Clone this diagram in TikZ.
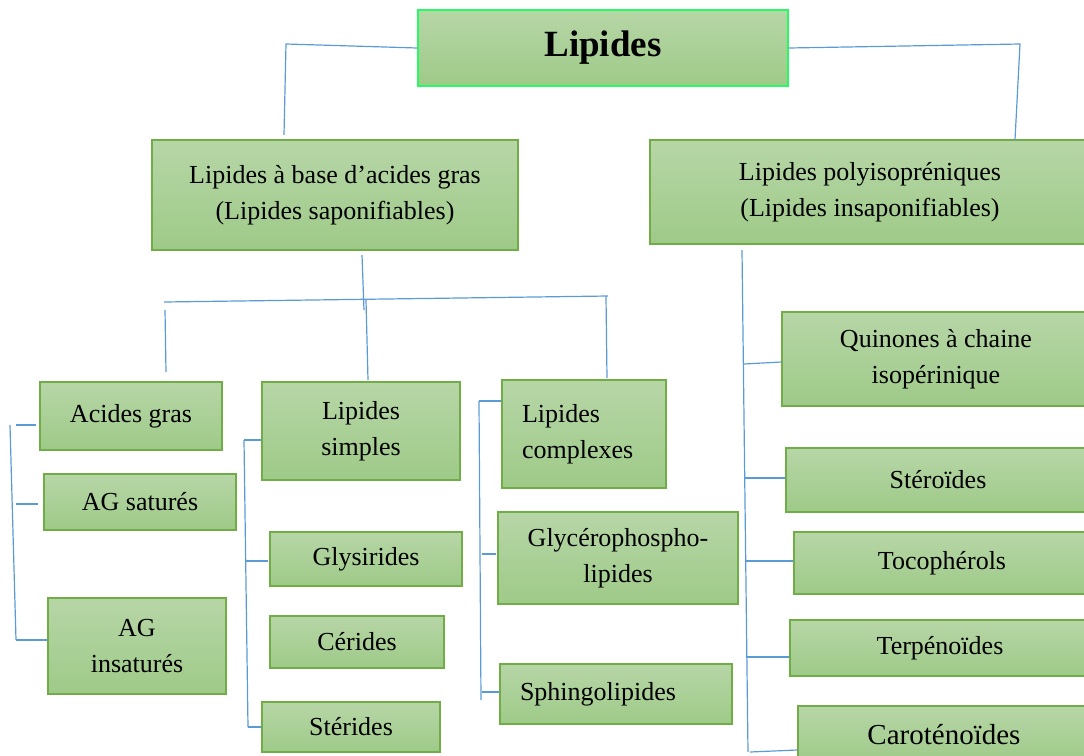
\documentclass[tikz,border=0pt]{standalone}
\usepackage{fontspec}
\setmainfont{Liberation Serif}
\usepackage{xcolor}
\usetikzlibrary{positioning}
\definecolor{boxline}{RGB}{112,173,71}
\definecolor{boxtop}{RGB}{183,214,167}
\definecolor{boxbot}{RGB}{158,202,136}
\definecolor{titleline}{RGB}{40,250,100}
\definecolor{linkblue}{RGB}{91,155,213}

\begin{document}
\begin{tikzpicture}[x=0.5pt, y=-0.5pt,
        box/.style={draw=boxline, line width=0.7pt, top color=boxtop, bottom color=boxbot,
            align=center, inner sep=0pt, font=\fontsize{13}{18}\selectfont},
        link/.style={draw=linkblue, line width=0.6pt}]
        \useasboundingbox (0,0) rectangle (1084,756);

        \node[box, draw=titleline, minimum width=185pt, minimum height=38pt,
            font=\bfseries\fontsize{18.5}{22}\selectfont] (lip) at (603,48) {Lipides};

        \node[box, minimum width=183pt, minimum height=55pt] (sapo) at (335,195)
            {Lipides à base d’acides gras\\(Lipides saponifiables)};
        \node[box, minimum width=220pt, minimum height=52pt] (insapo) at (870,192)
            {Lipides polyisopréniques\\(Lipides insaponifiables)};

        \node[box, minimum width=91pt, minimum height=34pt] (ag) at (131,416) {Acides gras};
        \node[box, minimum width=96pt, minimum height=28pt] (agsat) at (140,502) {AG saturés};
        \node[box, minimum width=89pt, minimum height=48pt] (agins) at (137,646) {AG\\insaturés};

        \node[box, minimum width=99pt, minimum height=49pt] (simples) at (361,431) {Lipides\\simples};
        \node[box, minimum width=96pt, minimum height=27pt] (glys) at (366,559) {Glysirides};
        \node[box, minimum width=87pt, minimum height=26pt] (cer) at (357,642) {Cérides};
        \node[box, minimum width=89pt, minimum height=25pt] (ster) at (351,727) {Stérides};

        \node[box, minimum width=82pt, minimum height=54pt, align=left, text width=62pt,
            inner xsep=10pt] (compl) at (584,434) {Lipides\\complexes};
        \node[box, minimum width=120pt, minimum height=46pt] (glyc) at (618,558)
            {Glycérophospho-\\lipides};
        \node[box, minimum width=116pt, minimum height=30pt, align=left, text width=96pt,
            inner xsep=10pt] (sphingo) at (616,694) {Sphingolipides};

        \node[box, minimum width=154pt, minimum height=47pt] (quin) at (936,359)
            {Quinones à chaine\\isopérinique};
        \node[box, minimum width=152pt, minimum height=32pt] (stero) at (938,480) {Stéroïdes};
        \node[box, minimum width=148pt, minimum height=31pt] (toco) at (942,563) {Tocophérols};
        \node[box, minimum width=150pt, minimum height=28pt] (terp) at (940,648) {Terpénoïdes};
        \node[box, minimum width=146pt, minimum height=29pt,
            font=\fontsize{14.5}{18}\selectfont] (caro) at (944,735) {Caroténoïdes};

        \coordinate (lipL) at (286,44);
        \coordinate (lipLd) at (284,135);
        \coordinate (lipR) at (1020,44);
        \coordinate (lipRd) at (1015,140);
        \draw[link] (lip.west) -- (lipL) -- (lipLd);
        \draw[link] (lip.east) -- (lipR) -- (lipRd);

        \coordinate (sapoD) at (362,255);
        \coordinate (busM) at (364,310);
        \coordinate (busL) at (164,302);
        \coordinate (busR) at (608,296);
        \draw[link] (sapoD) -- (busM);
        \draw[link] (busL) -- (busR);
        \draw[link] (165,310) -- (166,372);
        \draw[link] (366,300) -- (368,380);
        \draw[link] (606,296) -- (607,378);

        \coordinate (agT) at (10,425);
        \coordinate (agB) at (16,640);
        \draw[link] (agT) -- (agB);
        \draw[link] (16,425) -- (36,425);
        \draw[link] (16,504) -- (38,504);
        \draw[link] (agB) -- (agins.west |- agB);

        \coordinate (simT) at (244,440);
        \coordinate (simB) at (248,727);
        \draw[link] (simT) -- (simB);
        \draw[link] (simT) -- (simples.west |- simT);
        \draw[link] (246,561) -- (268,561);
        \draw[link] (simB) -- (ster.west |- simB);

        \coordinate (comT) at (479,401);
        \coordinate (comB) at (481,700);
        \draw[link] (comT) -- (comB);
        \draw[link] (comT) -- (compl.west |- comT);
        \draw[link] (482,554) -- (496,554);
        \draw[link] (482,692) -- (sphingo.west |- 0,692);

        \coordinate (polT) at (742,250);
        \coordinate (polB) at (748,752);
        \draw[link] (polT) -- (polB);
        \draw[link] (744,364) -- (quin.west |- 0,362);
        \draw[link] (745,478) -- (stero.west |- 0,478);
        \draw[link] (745,561) -- (toco.west |- 0,561);
        \draw[link] (746,657) -- (terp.west |- 0,657);
        \draw[link] (750,752) -- (caro.west |- 0,750);
    \end{tikzpicture}
\end{document}
